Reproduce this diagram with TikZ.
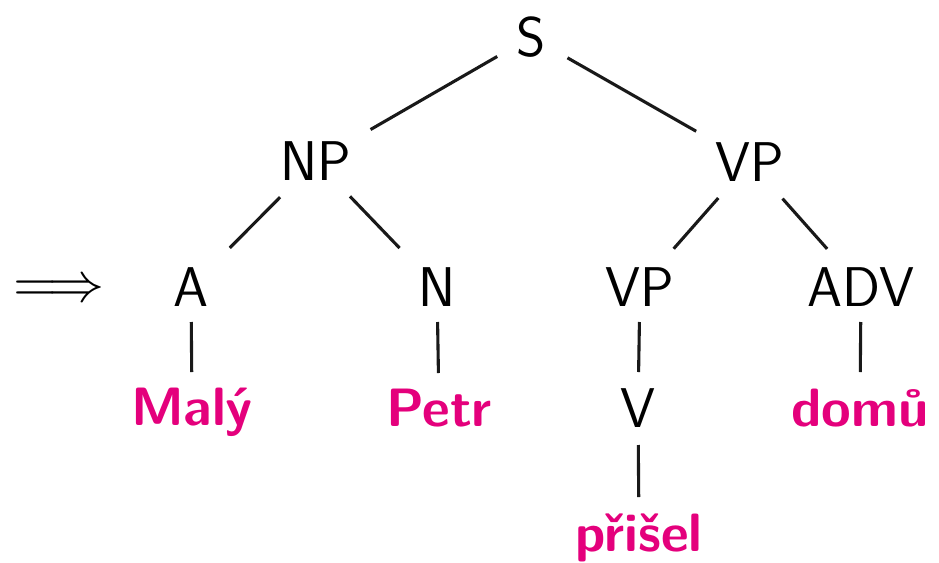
\documentclass[tikz,border=0pt]{standalone}
\definecolor{wordpink}{RGB}{228,0,124}
\tikzset{
  lab/.style={font=\fontsize{56}{60}\selectfont\sffamily, inner sep=0pt, text height=38.9pt, text depth=0pt, anchor=center},
  word/.style={font=\fontsize{54}{58}\selectfont\sffamily\bfseries, text=wordpink, inner sep=0pt, text height=37.5pt, text depth=0pt, anchor=center},
  edge/.style={line width=3.1pt, draw=black!90}
}
\begin{document}
\begin{tikzpicture}[x=1pt,y=-1pt]
\useasboundingbox (0,0) rectangle (939,562);
\node[lab] (S) at (531,37) {S};
\node[lab] (NP) at (316,161) {NP};
\node[lab] (VPa) at (750,162) {VP};
\node[lab] (A) at (191,287) {A};
\node[lab] (N) at (437,287) {N};
\node[lab] (VPb) at (640,287) {VP};
\node[lab] (ADV) at (861,287) {ADV};
\node[lab] (V) at (638,408) {V};
\node[word] (maly) at (192,407) {Malý};
\node[word] (petr) at (439,408) {Petr};
\node[word] (domu) at (860,408) {domů};
\node[word] (prisel) at (639,533) {přišel};
\node[inner sep=0pt] (arr) at (59,291) {\scalebox{5.6}{$\Longrightarrow$}};
\draw[edge, shorten <=39pt, shorten >=63pt] (S.center) -- (NP.center);
\draw[edge, shorten <=42pt, shorten >=62pt] (S.center) -- (VPa.center);
\draw[edge, shorten <=51pt, shorten >=55pt] (NP.center) -- (A.center);
\draw[edge, shorten <=49pt, shorten >=54pt] (NP.center) -- (N.center);
\draw[edge, shorten <=48pt, shorten >=51pt] (VPa.center) -- (VPb.center);
\draw[edge, shorten <=49pt, shorten >=51pt] (VPa.center) -- (ADV.center);
\draw[edge, shorten <=35pt, shorten >=35pt] (A.center) -- (maly.center);
\draw[edge, shorten <=35pt, shorten >=35pt] (N.center) -- (petr.center);
\draw[edge, shorten <=35pt, shorten >=36pt] (VPb.center) -- (V.center);
\draw[edge, shorten <=35pt, shorten >=36pt] (ADV.center) -- (domu.center);
\draw[edge, shorten <=37pt, shorten >=36pt] (V.center) -- (prisel.center);
\end{tikzpicture}
\end{document}
